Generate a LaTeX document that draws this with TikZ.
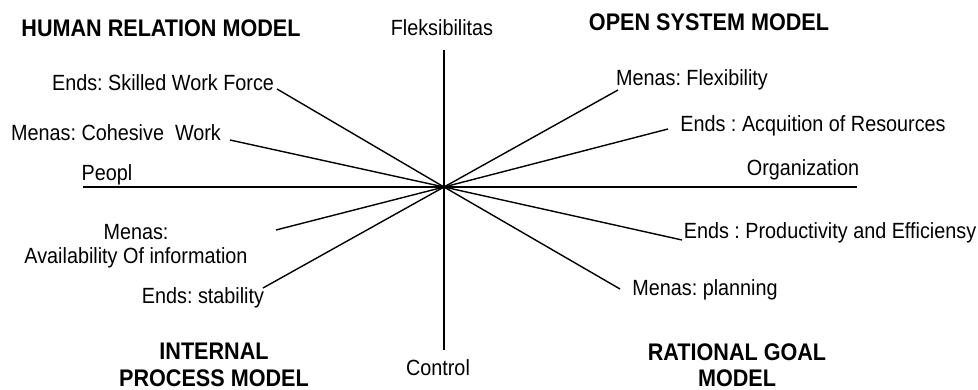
\documentclass[tikz,border=0pt]{standalone}
\usepackage{fontspec}
\newfontfamily\regf[FakeStretch=0.9]{Liberation Sans}
\newfontfamily\boldf[FakeStretch=0.9]{Liberation Sans Bold}
\frenchspacing
\begin{document}
\begin{tikzpicture}[x=1pt,y=-1pt,
  lbl/.style={inner sep=0pt, font=\regf\fontsize{22}{25}\selectfont, align=center},
  ttl/.style={inner sep=0pt, font=\boldf\fontsize{24}{26.5}\selectfont, align=center},
  ray/.style={line width=1.4pt, black}]
\useasboundingbox (0,0) rectangle (978,390);
% labels
\node[ttl] (hrm) at (161,28) {HUMAN RELATION MODEL};
\node[ttl] (osm) at (709,22) {OPEN SYSTEM MODEL};
\node[ttl] (ipm) at (214,365) {INTERNAL\\PROCESS MODEL};
\node[ttl] (rgm) at (737,365) {RATIONAL GOAL\\MODEL};
\node[lbl] (flex) at (442,28) {Fleksibilitas};
\node[lbl] (ctrl) at (438,368) {Control};
\node[lbl] (peo) at (107,175) {Peopl};
\node[lbl] (org) at (803,170) {Organization};
\node[lbl] (swf) at (163,83) {Ends: Skilled Work Force};
\node[lbl] (chw) at (116,133) {Menas: Cohesive\ \ Work};
\node[lbl] (avi) at (136,246) {Menas:\\[-1pt]Availability Of information};
\node[lbl] (stb) at (203,298) {Ends: stability};
\node[lbl] (mfl) at (692,80) {Menas: Flexibility};
\node[lbl] (acq) at (813,126) {Ends : Acquition of Resources};
\node[lbl] (pro) at (830,233) {Ends : Productivity and Efficiensy};
\node[lbl] (pln) at (705,290) {Menas: planning};
% hub and ray ends
\coordinate (c) at (444,187);
\coordinate (vt) at (444,50);
\coordinate (vb) at (444,350);
\coordinate (hl) at (83,187);
\coordinate (hr) at (857,187);
\coordinate (eswf) at (277,89);
\coordinate (echw) at (230,140);
\coordinate (eavi) at (276,230);
\coordinate (estb) at (263,288);
\coordinate (emfl) at (618,90);
\coordinate (eacq) at (668,129);
\coordinate (epro) at (682,240);
\coordinate (epln) at (620,289);
\draw[ray] (vt) -- (vb);
\draw[ray] (hl) -- (hr);
\foreach \e in {eswf,echw,eavi,estb,emfl,eacq,epro,epln}
  \draw[ray] (c) -- (\e);
\end{tikzpicture}
\end{document}
